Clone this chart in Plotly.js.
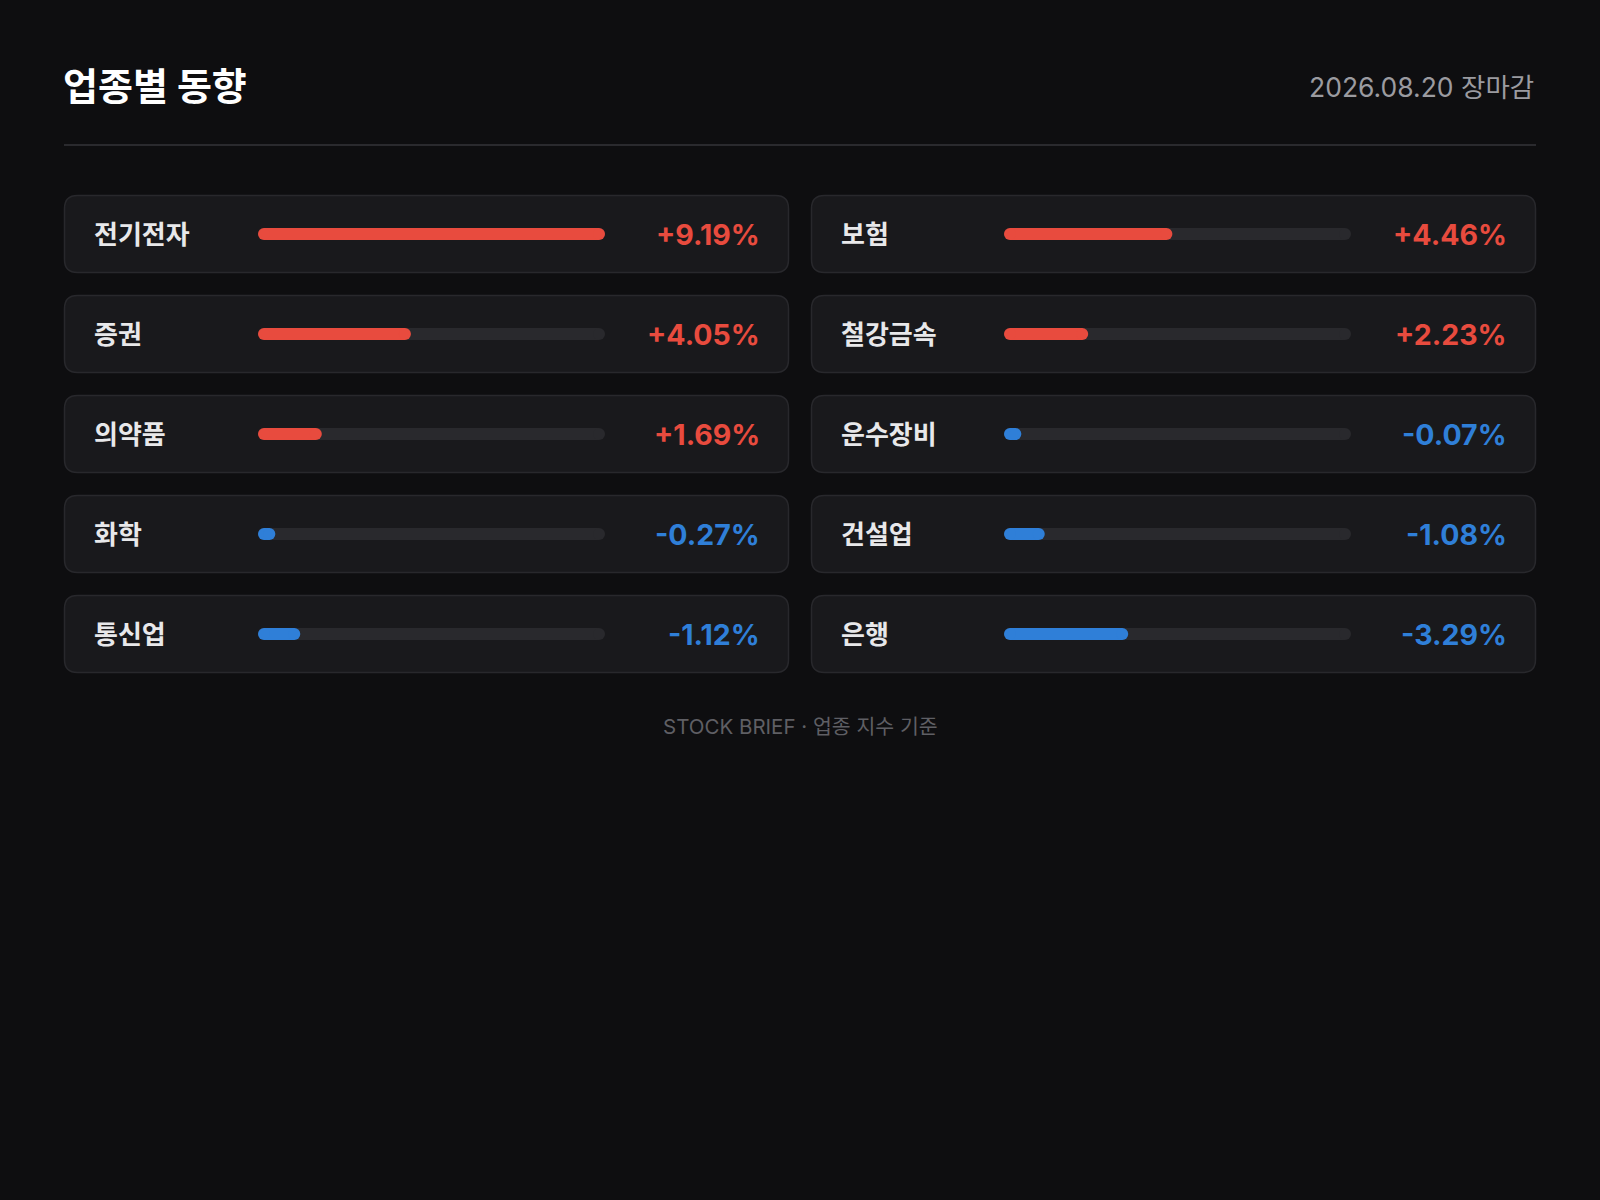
<!DOCTYPE html>
<html>
<head>
<meta charset="utf-8">
<script src="https://cdn.plot.ly/plotly-3.0.1.min.js"></script>
<style>
  html, body { margin: 0; padding: 0; background: #0e0e10; }
  #chart { width: 1600px; height: 1200px; }
</style>
</head>
<body>
<div id="chart"></div>
<script>
// ---- data ----
const sectors = ['전기전자', '보험', '증권', '철강금속', '의약품', '운수장비', '화학', '건설업', '통신업', '은행'];
const changes = [9.19, 4.46, 4.05, 2.23, 1.69, -0.07, -0.27, -1.08, -1.12, -3.29];
const chartTitle = '업종별 동향';
const dateLabel = '2026.08.20 장마감';
const footerText = 'STOCK BRIEF · 업종 지수 기준';

// ---- style ----
const W = 1600, H = 1200;
const UP = '#e84b3e', DOWN = '#2f7fd8';
const FONT = 'Inter, "Noto Sans CJK KR", "Noto Sans", sans-serif';
const BG = '#0e0e10', CARD = '#19191c', CARD_BORDER = '#28282c', TRACK = '#29292d';

const pad = 64, colGap = 22, cardW = 725, cardH = 78, rowPitch = 100, firstTop = 195;
const trackOffset = 194, trackW = 347, labelOffset = 28, valueRight = 27;
const barPx = 12;
const nRows = Math.ceil(sectors.length / 2);

const px = x => x / W;
const py = y => 1 - y / H;

const cols = [0, 1].map(c => {
  const idx = sectors.map((s, i) => i).filter(i => i % 2 === c);
  return {
    names: idx.map(i => sectors[i]),
    vals: idx.map(i => changes[i]),
    left: pad + c * (cardW + colGap)
  };
});

const maxAbs = Math.max(...changes.map(v => Math.abs(v)));
const minFrac = 0.05;
const capX = maxAbs * (barPx / 2) / trackW;   // half bar-height in data units (round caps)
const rowIdx = Array.from({length: nRows}, (_, i) => i);

// capsule = straight bar between two round-cap markers
function capsule(xa, ys, lens, color, hover) {
  const out = [];
  out.push({
    type: 'bar', orientation: 'h', xaxis: xa, yaxis: 'y',
    y: ys, x: lens.map(l => Math.max(l - 2 * capX, 0)), base: capX, width: barPx / rowPitch,
    marker: {color: color, line: {width: 0}},
    customdata: hover, hovertemplate: hover ? '%{customdata}<extra></extra>' : undefined,
    hoverinfo: hover ? undefined : 'skip', showlegend: false
  });
  out.push({
    type: 'scatter', mode: 'markers', xaxis: xa, yaxis: 'y',
    y: ys.concat(ys), x: ys.map(() => capX).concat(lens.map(l => Math.max(l - capX, capX))),
    marker: {color: Array.isArray(color) ? color.concat(color) : color, size: barPx, line: {width: 0}},
    hoverinfo: 'skip', showlegend: false
  });
  return out;
}

let traces = [];
// tracks on base axes (x, x2), values on overlaying axes (x3, x4) so they are drawn on top
cols.forEach((col, c) => {
  const ys = rowIdx.slice(0, col.vals.length);
  traces = traces.concat(capsule(c === 0 ? 'x' : 'x2', ys, ys.map(() => maxAbs), TRACK, null));
});
cols.forEach((col, c) => {
  const ys = rowIdx.slice(0, col.vals.length);
  const lens = col.vals.map(v => Math.max(Math.abs(v), maxAbs * minFrac));
  const colors = col.vals.map(v => v >= 0 ? UP : DOWN);
  traces = traces.concat(capsule(c === 0 ? 'x3' : 'x4', ys, lens, colors,
    col.names.map((n, i) => n + ' ' + col.vals[i] + '%')));
});

function roundRect(x0, y0, x1, y1, r) {
  const X = px, Y = py;
  return `M ${X(x0 + r)} ${Y(y0)} L ${X(x1 - r)} ${Y(y0)} Q ${X(x1)} ${Y(y0)} ${X(x1)} ${Y(y0 + r)} ` +
         `L ${X(x1)} ${Y(y1 - r)} Q ${X(x1)} ${Y(y1)} ${X(x1 - r)} ${Y(y1)} ` +
         `L ${X(x0 + r)} ${Y(y1)} Q ${X(x0)} ${Y(y1)} ${X(x0)} ${Y(y1 - r)} ` +
         `L ${X(x0)} ${Y(y0 + r)} Q ${X(x0)} ${Y(y0)} ${X(x0 + r)} ${Y(y0)} Z`;
}

const shapes = [{
  type: 'line', xref: 'paper', yref: 'paper',
  x0: px(pad), x1: px(W - pad), y0: py(145), y1: py(145),
  line: {color: '#2a2a2e', width: 2}, layer: 'below'
}];
const annotations = [];

cols.forEach((col, c) => {
  col.names.forEach((name, i) => {
    const top = firstTop + i * rowPitch;
    shapes.push({
      type: 'path', xref: 'paper', yref: 'paper', layer: 'below',
      path: roundRect(col.left + 0.5, top + 0.5, col.left + cardW - 0.5, top + cardH - 0.5, 13),
      fillcolor: CARD, line: {color: CARD_BORDER, width: 1.5}
    });
    annotations.push({
      xref: 'paper', yref: 'y', x: px(col.left + labelOffset), y: i,
      xanchor: 'left', yanchor: 'middle', showarrow: false,
      text: name, font: {family: FONT, size: 26, color: '#e8e8ea', weight: 600}
    });
    const v = col.vals[i];
    annotations.push({
      xref: 'paper', yref: 'y', x: px(col.left + cardW - valueRight), y: i,
      xanchor: 'right', yanchor: 'middle', showarrow: false,
      text: (v > 0 ? '+' : '') + v.toFixed(2) + '%',
      font: {family: FONT, size: 28.5, color: v >= 0 ? UP : DOWN, weight: 700}
    });
  });
});

annotations.push({
  xref: 'paper', yref: 'paper', x: px(W - pad), y: py(87),
  xanchor: 'right', yanchor: 'middle', showarrow: false,
  text: dateLabel, font: {family: FONT, size: 26.5, color: '#9b9ba0'}
});
annotations.push({
  xref: 'paper', yref: 'paper', x: 0.5, y: py(726),
  xanchor: 'center', yanchor: 'middle', showarrow: false,
  text: footerText, font: {family: FONT, size: 20.5, color: '#5f5f64'}
});

const hidden = {showgrid: false, zeroline: false, showticklabels: false, ticks: '', showline: false, fixedrange: true};
const bandTop = firstTop + cardH / 2 - rowPitch / 2;
const bandBottom = bandTop + nRows * rowPitch;
const dom0 = [px(cols[0].left + trackOffset), px(cols[0].left + trackOffset + trackW)];
const dom1 = [px(cols[1].left + trackOffset - 1), px(cols[1].left + trackOffset - 1 + trackW)];

const layout = {
  width: W, height: H,
  margin: {l: 0, r: 0, t: 0, b: 0, pad: 0},
  paper_bgcolor: BG, plot_bgcolor: 'rgba(0,0,0,0)',
  barmode: 'overlay',
  title: {
    text: chartTitle, x: px(pad - 1), xref: 'paper', xanchor: 'left',
    y: py(87), yref: 'paper', yanchor: 'middle',
    font: {family: FONT, size: 38, color: '#ffffff', weight: 700}
  },
  xaxis: Object.assign({}, hidden, {domain: dom0, range: [0, maxAbs], anchor: 'y'}),
  xaxis2: Object.assign({}, hidden, {domain: dom1, range: [0, maxAbs], anchor: 'y'}),
  xaxis3: Object.assign({}, hidden, {domain: dom0, range: [0, maxAbs], anchor: 'y', overlaying: 'x'}),
  xaxis4: Object.assign({}, hidden, {domain: dom1, range: [0, maxAbs], anchor: 'y', overlaying: 'x2'}),
  yaxis: Object.assign({}, hidden, {domain: [py(bandBottom), py(bandTop)], range: [nRows - 0.5, -0.5], anchor: 'x'}),
  shapes: shapes,
  annotations: annotations,
  hovermode: 'closest'
};

Plotly.newPlot('chart', traces, layout, {displayModeBar: false});
</script>
</body>
</html>
